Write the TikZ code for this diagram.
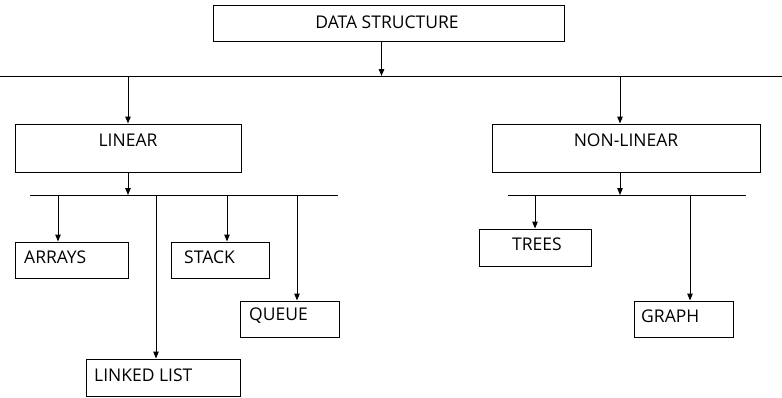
\documentclass[tikz,border=0pt]{standalone}
\usepackage{fontspec}
\setmainfont{Open Sans}
\usetikzlibrary{arrows.meta,positioning}

\tikzset{
  box/.style={draw, line width=1pt, inner sep=0pt},
  txt/.style={inner sep=0pt, font=\fontsize{17.5}{20}\selectfont},
  arr/.style={line width=1pt, -{Triangle[length=7pt,width=5.5pt]}}
}

\begin{document}
\begin{tikzpicture}[x=1pt,y=-1pt]
        \useasboundingbox (0,0) rectangle (782,397);

        % Draw the boxes
        \foreach \name/\xa/\ya/\xb/\yb in {ds/213/5/564/41, lin/15/124/241/172, nonlin/492/124/760/172,
                arrays/15/242/128/278, stack/171/242/269/278, llist/86/359/240/396, queue/240/301/339/337,
                trees/479/229/591/266, graph/634/301/733/337} {
            \node[box, minimum width=\xb-\xa, minimum height=\yb-\ya] (\name) at ({(\xa+\xb)/2},{(\ya+\yb)/2}) {};
        }

        % Texts in the boxes
        \node[txt] (dstxt) at (387,22) {DATA STRUCTURE};
        \node[txt] (lintxt) at (128,140) {LINEAR};
        \node[txt] (nonlintxt) at (626,140) {NON-LINEAR};
        \node[txt] (treestxt) at (537,244) {TREES};
        \foreach \name/\x/\y/\label in {arrays/24/257/ARRAYS, stack/184/257/STACK, queue/249/316/QUEUE,
                llist/94/375/LINKED LIST, graph/641/316/GRAPH} {
            \node[txt, anchor=west] (\name txt) at (\x,\y) {\label};
        }

        % Horizontal lines
        \coordinate (topL) at (0,76);
        \coordinate (topR) at (782,76);
        \coordinate (linL) at (30,195);
        \coordinate (linR) at (338,195);
        \coordinate (nonL) at (508,195);
        \coordinate (nonR) at (746,195);
        \draw[line width=1pt] (topL) -- (topR);
        \draw[line width=1pt] (linL) -- (linR);
        \draw[line width=1pt] (nonL) -- (nonR);

        % Arrows between the levels
        \coordinate (dsfoot) at ([xshift=-7]ds.south);
        \draw[arr] (dsfoot) -- (dsfoot |- topL);
        \draw[arr] (lin.north |- topL) -- (lin.north);
        \coordinate (nonhead) at ([xshift=-6]nonlin.north);
        \draw[arr] (nonhead |- topL) -- (nonhead);
        \draw[arr] (lin.south) -- (lin.south |- linL);
        \coordinate (nonfoot) at ([xshift=-6]nonlin.south);
        \draw[arr] (nonfoot) -- (nonfoot |- nonL);

        % Arrows down to the leaves
        \foreach \name/\dx/\bus in {arrays/-13.5/linL, stack/7/linL, llist/-7/linL, queue/7.5/linL,
                trees/0/nonL, graph/6.5/nonL} {
            \coordinate (\name head) at ([xshift=\dx]\name.north);
            \draw[arr] (\name head |- \bus) -- (\name head);
        }

\end{tikzpicture}
\end{document}
